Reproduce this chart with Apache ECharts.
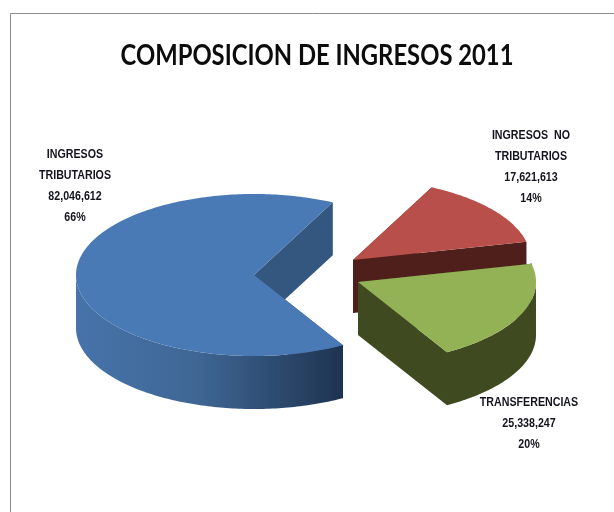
<!DOCTYPE html>
<html lang="es">
<head>
    <meta charset="UTF-8">
    <title>Composicion de ingresos 2011</title>
    <script src="https://cdnjs.cloudflare.com/ajax/libs/echarts/6.0.0/echarts.min.js"></script>
    <style>
        html, body { margin: 0; padding: 0; background: #fff; }
        #main { width: 614px; height: 512px; }
    </style>
</head>
<body>
    <div id="main"></div>
    <script>
        const titleText = 'COMPOSICION DE INGRESOS 2011';
        const categories = ['INGRESOS\nTRIBUTARIOS', 'INGRESOS  NO\nTRIBUTARIOS', 'TRANSFERENCIAS'];
        const ingresos = [82046612, 17621613, 25338247];

        const topColors = ['#4a7ab5', '#b94f4a', '#93b155'];
        const wallColors = ['#34577f', '#4f1f1c', '#3f4a21'];
        // pie geometry in page pixels, squashed ellipse plus extruded depth
        const center = [310, 275];
        const radiusX = 178, radiusY = 81, depth = 53;
        const explode = [[-56, 0], [43, -15], [48, 7]];
        const firstAngle = -60; // slices run clockwise from here
        const labelPos = [[75, 186], [531, 167], [529, 423]];

        const total = ingresos.reduce((a, b) => a + b, 0);

        function sliceAngles(idx) {
            let start = firstAngle;
            for (let i = 0; i < idx; i++) start -= ingresos[i] / total * 360;
            return [start, start - ingresos[idx] / total * 360];
        }

        function renderSlice(params, api) {
            const idx = params.dataIndex;
            const [a0, a1] = sliceAngles(idx);
            const cx = center[0] + explode[idx][0];
            const cy = center[1] + explode[idx][1];
            const pt = (deg, dy) => {
                const r = deg * Math.PI / 180;
                return [cx + radiusX * Math.cos(r), cy - radiusY * Math.sin(r) + (dy || 0)];
            };
            const poly = (points, fill) => ({ type: 'polygon', shape: { points }, style: { fill, stroke: null } });

            const degs = [];
            for (let d = a0; d > a1; d -= 1) degs.push(d);
            degs.push(a1);

            const children = [];
            // radial side faces, the one drawn last ends up in front
            const radial = deg => poly([[cx, cy], pt(deg), pt(deg, depth), [cx, cy + depth]], wallColors[idx]);
            children.push(radial(a0), radial(a1));

            // outer wall, only the part on the near half of the ellipse
            const near = degs.filter(d => Math.sin(d * Math.PI / 180) < 0.02);
            if (near.length) {
                const upper = near.map(d => pt(d));
                const lower = near.map(d => pt(d, depth)).reverse();
                const fill = idx === 0 ? {
                    type: 'linear', x: 0, y: 0, x2: 1, y2: 0,
                    colorStops: [
                        { offset: 0, color: '#4673aa' },
                        { offset: 0.45, color: '#3f6795' },
                        { offset: 1, color: '#1e3350' }
                    ]
                } : wallColors[idx];
                children.push(poly(upper.concat(lower), fill));
                // the seam between radial face and wall shows as a hairline otherwise
                if (idx === 2) children.push(poly([pt(a0), pt(a0 + 1), pt(a0 + 1, depth), pt(a0, depth)], wallColors[idx]));
            }

            children.push(poly([[cx, cy]].concat(degs.map(d => pt(d))), topColors[idx]));

            const pct = Math.round(api.value(0) / total * 100);
            children.push({
                type: 'text',
                z2: 10,
                x: labelPos[idx][0],
                y: labelPos[idx][1],
                scaleX: 0.82,
                style: {
                    text: categories[idx] + '\n' + api.value(0).toLocaleString('en-US') + '\n' + pct + '%',
                    align: 'center',
                    verticalAlign: 'middle',
                    lineHeight: 21,
                    fill: '#14141e',
                    font: 'bold 13px "Liberation Sans", sans-serif'
                }
            });
            return { type: 'group', children };
        }

        const myChart = echarts.init(document.getElementById('main'));
        myChart.setOption({
            animation: false,
            backgroundColor: '#fff',
            graphic: [{
                type: 'polyline',
                shape: { points: [[10.5, 512], [10.5, 13.5], [614, 13.5]] },
                style: { stroke: '#8c8c8c', lineWidth: 1, fill: null }
            }, {
                type: 'text',
                x: 317,
                y: 56,
                scaleX: 0.85,
                style: {
                    text: titleText,
                    align: 'center',
                    verticalAlign: 'middle',
                    fill: '#0c0c0c',
                    font: 'bold 28px Lato, sans-serif'
                }
            }],
            series: [{
                type: 'custom',
                coordinateSystem: 'none',
                renderItem: renderSlice,
                data: ingresos.map(v => [v])
            }]
        });
    </script>
</body>
</html>
